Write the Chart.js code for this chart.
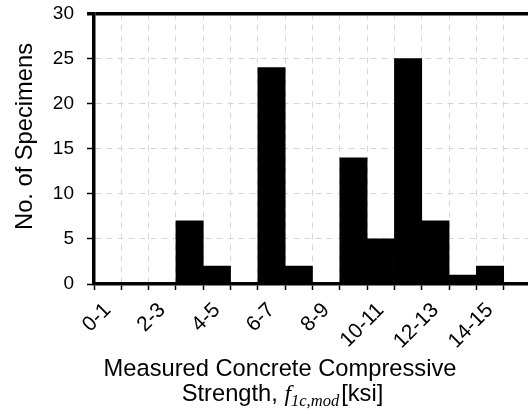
<!DOCTYPE html>
<html lang="en">
<head>
    <meta charset="UTF-8">
    <title>Measured Concrete Compressive Strength</title>
    <script src="https://cdn.jsdelivr.net/npm/chart.js@4"></script>
    <style>
        html, body { margin: 0; padding: 0; background: #fff; overflow: hidden; }
        #wrap { width: 532px; height: 414px; }
    </style>
</head>
<body>
<div id="wrap"><canvas id="myChart"></canvas></div>

<script>
    // histogram bins (ksi) and counts
    var binLabels = ['0-1', '1-2', '2-3', '3-4', '4-5', '5-6', '6-7', '7-8',
                     '8-9', '9-10', '10-11', '11-12', '12-13', '13-14', '14-15', '15-16'];
    var specimenCounts = [0, 0, 0, 7, 2, 0, 24, 2, 0, 14, 5, 25, 7, 1, 2, 0];
    var yMin = 0, yMax = 30, yStep = 5;

    var yTitle = 'No. of Specimens';
    var xTitleLine1 = 'Measured Concrete Compressive';
    // second line mixes fonts: [text, style]
    var xTitleLine2 = [
        ['Strength, ', 'sans'],
        ['f', 'var'],
        ['1c,mod', 'sub'],
        ['[ksi]', 'sans']
    ];

    var sansFont = '"Liberation Sans", Arial, sans-serif';
    var serifFont = '"Liberation Serif", "Times New Roman", serif';

    Chart.defaults.font.family = sansFont;
    Chart.defaults.color = '#000';

    var gridGray = '#d6d6d6';

    // axis titles drawn by hand so the subscript can use its own font
    var axisTitles = {
        id: 'axisTitles',
        afterDraw: function(chart) {
            var ctx = chart.ctx;
            ctx.save();
            ctx.fillStyle = '#000';
            ctx.textBaseline = 'alphabetic';

            ctx.save();
            ctx.translate(32, 136.5);
            ctx.rotate(-Math.PI / 2);
            ctx.font = '23.7px ' + sansFont;
            ctx.textAlign = 'center';
            ctx.fillText(yTitle, 0, 0);
            ctx.restore();

            ctx.font = '23.7px ' + sansFont;
            ctx.textAlign = 'center';
            ctx.fillText(xTitleLine1, 280, 376);

            var fonts = {
                sans: '23.7px ' + sansFont,
                'var': 'italic 23.7px ' + serifFont,
                sub: 'italic 16.5px ' + serifFont
            };
            var total = 0;
            xTitleLine2.forEach(function(part) {
                ctx.font = fonts[part[1]];
                total += ctx.measureText(part[0]).width;
            });
            var x = 281.5 - total / 2;
            ctx.textAlign = 'left';
            xTitleLine2.forEach(function(part) {
                ctx.font = fonts[part[1]];
                var dy = part[1] === 'sub' ? 4.5 : 0;
                ctx.fillText(part[0], x, 401 + dy);
                x += ctx.measureText(part[0]).width + (part[1] === 'sub' ? 2 : 0);
            });
            ctx.restore();
        }
    };

    var ctx = document.getElementById('myChart').getContext('2d');
    var myChart = new Chart(ctx, {
        type: 'bar',
        data: {
            labels: binLabels,
            datasets: [{
                data: specimenCounts,
                backgroundColor: '#000',
                borderWidth: 0,
                barPercentage: 1,
                categoryPercentage: 1
            }]
        },
        options: {
            responsive: true,
            maintainAspectRatio: false,
            animation: false,
            layout: { padding: { top: 13.5, right: 1, left: 0, bottom: 0 } },
            plugins: {
                legend: { display: false },
                tooltip: { enabled: false }
            },
            scales: {
                x: {
                    offset: true,
                    grid: {
                        offset: true,
                        color: gridGray,
                        lineWidth: 1,
                        tickColor: '#000',
                        tickWidth: 1.5,
                        tickLength: 6
                    },
                    border: { color: '#000', width: 3.5, dash: [6, 5] },
                    ticks: {
                        autoSkip: false,
                        minRotation: 45,
                        maxRotation: 45,
                        padding: 8,
                        font: { size: 21 },
                        callback: function(val, i) {
                            return i % 2 === 0 ? binLabels[i] : '';
                        }
                    },
                    afterFit: function(scale) {
                        scale.height = 130;
                        scale.paddingLeft = 0;
                        scale.paddingRight = 0;
                    }
                },
                y: {
                    min: yMin,
                    max: yMax,
                    grid: {
                        color: function(c) { return c.tick && c.tick.value === yMax ? '#000' : gridGray; },
                        lineWidth: function(c) { return c.tick && c.tick.value === yMax ? 3.5 : 1; },
                        tickColor: '#000',
                        tickWidth: function(c) { return c.tick && c.tick.value === yMax ? 3.5 : 1.5; },
                        tickLength: 7
                    },
                    border: {
                        color: '#000',
                        width: 3.5,
                        dash: function(c) { return c.tick && c.tick.value === yMax ? [] : [6, 5]; }
                    },
                    ticks: {
                        stepSize: yStep,
                        padding: 13,
                        font: { size: 19 }
                    },
                    afterFit: function(scale) {
                        scale.width = 94;
                        scale.paddingTop = 0;
                        scale.paddingBottom = 0;
                    }
                }
            }
        },
        plugins: [axisTitles]
    });
</script>
</body>
</html>
